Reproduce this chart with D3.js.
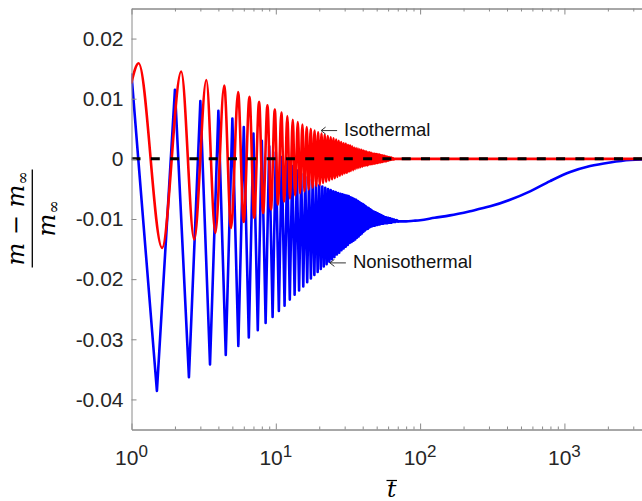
<!DOCTYPE html>
<html>
<head>
<meta charset="utf-8">
<script src="https://cdn.jsdelivr.net/npm/d3@7"></script>
<style>
  body { margin: 0; background: #fff; }
  svg { display: block; }
</style>
</head>
<body>
<svg id="chart" width="642" height="501"></svg>
<script>
// nonisothermal curve: peaks at integer t, troughs at half-integer t
var bluePeaks = [
  [1,0.0140],[2,0.0115],[3,0.0096],[4,0.0080],[5,0.0067],[6,0.0053],[7,0.0042],[8,0.0030],[9,0.0021],[10,0.0011],
  [11,0.0003],[12,-0.0004],[13,-0.0012],[14,-0.0019],[15,-0.0025],[16,-0.0030],[17,-0.0034],[18,-0.0038],[19,-0.0041],[20,-0.0044],
  [21,-0.0046],[22,-0.0048],[23,-0.0050],[24,-0.0052],[25,-0.0054],[26,-0.0055],[27,-0.0057],[28,-0.0058],[29,-0.0059],[30,-0.0060],
  [31,-0.0061],[32,-0.0062],[33,-0.0064],[34,-0.0065],[35,-0.0067],[36,-0.0068],[37,-0.0070],[38,-0.0072],[39,-0.0074],[40,-0.0075],
  [41,-0.0077],[42,-0.0079],[43,-0.0081],[44,-0.0082],[45,-0.0084],[46,-0.0085],[47,-0.0087],[48,-0.0088],[49,-0.0089],[50,-0.0090],
  [51,-0.0091],[52,-0.0092],[53,-0.0093],[54,-0.0094],[55,-0.0095],[56,-0.0096],[57,-0.0097],[58,-0.0097],[59,-0.0098],[60,-0.0098],
  [61,-0.0099],[62,-0.0099],[63,-0.0100],[64,-0.0100],[65,-0.0101],[66,-0.0101],[67,-0.0102],[68,-0.0102],[69,-0.0102],[70,-0.0103]
];
var blueTroughs = [
  [1.5,-0.0386],[2.5,-0.0363],[3.5,-0.0342],[4.5,-0.0326],[5.5,-0.0311],[6.5,-0.0297],[7.5,-0.0285],[8.5,-0.0273],[9.5,-0.0263],[10.5,-0.0253],
  [11.5,-0.0244],[12.5,-0.0234],[13.5,-0.0226],[14.5,-0.0219],[15.5,-0.0212],[16.5,-0.0205],[17.5,-0.0199],[18.5,-0.0193],[19.5,-0.0188],[20.5,-0.0183],
  [21.5,-0.0179],[22.5,-0.0175],[23.5,-0.0171],[24.5,-0.0167],[25.5,-0.0163],[26.5,-0.0159],[27.5,-0.0156],[28.5,-0.0152],[29.5,-0.0149],[30.5,-0.0146],
  [31.5,-0.0143],[32.5,-0.0140],[33.5,-0.0138],[34.5,-0.0136],[35.5,-0.0134],[36.5,-0.0131],[37.5,-0.0129],[38.5,-0.0126],[39.5,-0.0124],[40.5,-0.0121],
  [41.5,-0.0119],[42.5,-0.0117],[43.5,-0.0116],[44.5,-0.0114],[45.5,-0.0113],[46.5,-0.0112],[47.5,-0.0111],[48.5,-0.0111],[49.5,-0.0110],[50.5,-0.0110],
  [51.5,-0.0109],[52.5,-0.0109],[53.5,-0.0108],[54.5,-0.0108],[55.5,-0.0108],[56.5,-0.0107],[57.5,-0.0107],[58.5,-0.0107],[59.5,-0.0107],[60.5,-0.0106],
  [61.5,-0.0106],[62.5,-0.0106],[63.5,-0.0106],[64.5,-0.0105],[65.5,-0.0105],[66.5,-0.0105],[67.5,-0.0105],[68.5,-0.0104],[69.5,-0.0104],[70.5,-0.0104]
];
var blueTail = [
  [70.5,-0.0104],[75,-0.0104],[80,-0.0104],[90,-0.0103],[100,-0.0102],[126,-0.0098],[161,-0.0094],[222,-0.0087],[306,-0.0079],
  [420,-0.0068],[578,-0.0054],[796,-0.0037],[1096,-0.0022],[1507,-0.0012],[2075,-0.0006],[2856,-0.0002],[3600,-0.0001]
];

// isothermal curve: period about 1.09
var redStart = [[1,0.0127]];
var redPeaks = [
  [1.12,0.0159],[2.21,0.0145],[3.30,0.0131],[4.39,0.0122],[5.48,0.0111],[6.57,0.0103],[7.66,0.0095],[8.75,0.0089],[9.84,0.0082],[10.93,0.0077],
  [12.02,0.0071],[13.11,0.0065],[14.20,0.0061],[15.29,0.0057],[16.38,0.0053],[17.47,0.0050],[18.56,0.0047],[19.65,0.0044],[20.74,0.0042],[21.83,0.0040],
  [22.92,0.0038],[24.01,0.0036],[25.10,0.0034],[26.19,0.0032],[27.28,0.0030],[28.37,0.0028],[29.46,0.0026],[30.55,0.0025],[31.64,0.0023],[32.73,0.0022],
  [33.82,0.0021],[34.91,0.0019],[36.00,0.0018],[37.09,0.0017],[38.18,0.0016],[39.27,0.0015],[40.36,0.0014],[41.45,0.0013],[42.54,0.0012],[43.63,0.0011],
  [44.72,0.0011],[45.81,0.0010],[46.90,0.0009],[47.99,0.0009],[49.08,0.0008],[50.17,0.0008],[51.26,0.0007],[52.35,0.0007],[53.44,0.0006],[54.53,0.0006],
  [55.62,0.0005],[56.71,0.0005],[57.80,0.0004],[58.89,0.0004],[59.98,0.0003],[61.07,0.0003],[62.16,0.0002],[63.25,0.0002],[64.34,0.0001],[65.43,0.0001]
];
var redTroughs = [
  [1.63,-0.0148],[2.72,-0.0134],[3.81,-0.0123],[4.90,-0.0115],[5.99,-0.0105],[7.08,-0.0098],[8.17,-0.0090],[9.26,-0.0084],[10.35,-0.0076],[11.44,-0.0071],
  [12.53,-0.0066],[13.62,-0.0061],[14.71,-0.0057],[15.80,-0.0054],[16.89,-0.0051],[17.98,-0.0048],[19.07,-0.0045],[20.16,-0.0043],[21.25,-0.0040],[22.34,-0.0038],
  [23.43,-0.0036],[24.52,-0.0034],[25.61,-0.0032],[26.70,-0.0030],[27.79,-0.0028],[28.88,-0.0026],[29.97,-0.0024],[31.06,-0.0023],[32.15,-0.0021],[33.24,-0.0020],
  [34.33,-0.0019],[35.42,-0.0017],[36.51,-0.0016],[37.60,-0.0015],[38.69,-0.0014],[39.78,-0.0013],[40.87,-0.0012],[41.96,-0.0011],[43.05,-0.0011],[44.14,-0.0010],
  [45.23,-0.0009],[46.32,-0.0009],[47.41,-0.0008],[48.50,-0.0008],[49.59,-0.0007],[50.68,-0.0007],[51.77,-0.0006],[52.86,-0.0006],[53.95,-0.0005],[55.04,-0.0005],
  [56.13,-0.0004],[57.22,-0.0004],[58.31,-0.0004],[59.40,-0.0003],[60.49,-0.0003],[61.58,-0.0002],[62.67,-0.0002],[63.76,-0.0001],[64.85,-0.0001],[65.94,-0.0001]
];
var redTail = [[67,0],[3600,0]];

var yTicks = [-0.04, -0.03, -0.02, -0.01, 0, 0.01, 0.02];
var xMajor = [1, 10, 100, 1000];
var annotations = [
  {label: "Isothermal", t: 20.6, v: 0.0047},
  {label: "Nonisothermal", t: 23.7, v: -0.0173}
];

var svg = d3.select("#chart");
var axisColor = "#8a8a8a", textColor = "#262626";
var sans = "'Liberation Sans', Arial, Helvetica, sans-serif";
var serif = "'DejaVu Serif', 'Liberation Serif', serif";

var x = d3.scaleLog().domain([1, 3600]).range([131.5, 644.7]);
var y = d3.scaleLinear().domain([-0.045, 0.025]).range([429.5, 8.5]);

svg.append("clipPath").attr("id", "plot")
  .append("rect")
  .attr("x", x.range()[0]).attr("y", y.range()[1])
  .attr("width", x.range()[1] - x.range()[0])
  .attr("height", y.range()[0] - y.range()[1]);

var byT = (a, b) => a[0] - b[0];
var blueOsc = bluePeaks.concat(blueTroughs).sort(byT);
var redData = redStart.concat(redPeaks, redTroughs).sort(byT).concat(redTail);

var lineLinear = d3.line().x(d => x(d[0])).y(d => y(d[1]));
var lineSmooth = d3.line().x(d => x(d[0])).y(d => y(d[1])).curve(d3.curveMonotoneX);

var plot = svg.append("g").attr("clip-path", "url(#plot)");

function drawCurve(data, gen, color){
  plot.append("path")
    .datum(data)
    .attr("d", gen)
    .style("fill", "none")
    .style("stroke", color)
    .style("stroke-width", 2.6)
    .style("stroke-linejoin", "round")
    .style("stroke-linecap", "round");
}

drawCurve(blueOsc, lineLinear, "#0000ff");
drawCurve(blueTail, lineSmooth, "#0000ff");
drawCurve(redData, lineSmooth, "#ff0000");

// steady state reference
plot.append("path")
  .datum(x.domain().map(t => [t, 0]))
  .attr("d", lineLinear)
  .style("fill", "none")
  .style("stroke", "#000")
  .style("stroke-width", 3)
  .style("stroke-dasharray", "9,10.3");

// axes
var xMinor = x.ticks().filter(d => xMajor.indexOf(d) < 0);

function styleAxis(g){
  g.selectAll("path.domain").style("stroke", axisColor).style("stroke-width", 1);
  g.selectAll(".tick line").style("stroke", axisColor).style("stroke-width", 1);
  g.selectAll("text").style("font-family", sans).style("font-size", "21px").style("fill", textColor);
}

svg.append("g")
  .attr("transform", "translate(0,429.5)")
  .call(d3.axisBottom(x).tickValues(xMajor).tickSizeInner(-6).tickSizeOuter(0).tickFormat(""))
  .call(styleAxis);
svg.append("g")
  .attr("transform", "translate(0,429.5)")
  .call(d3.axisBottom(x).tickValues(xMinor).tickSizeInner(-3).tickSizeOuter(0).tickFormat(""))
  .call(styleAxis);
svg.append("g")
  .attr("transform", "translate(0,8.5)")
  .call(d3.axisTop(x).tickValues(xMajor).tickSizeInner(-6).tickSizeOuter(0).tickFormat(""))
  .call(styleAxis);
svg.append("g")
  .attr("transform", "translate(0,8.5)")
  .call(d3.axisTop(x).tickValues(xMinor).tickSizeInner(-3).tickSizeOuter(0).tickFormat(""))
  .call(styleAxis);
svg.append("g")
  .attr("transform", "translate(131.5,0)")
  .call(d3.axisLeft(y).tickValues(yTicks).tickSizeInner(-5).tickSizeOuter(0).tickPadding(8)
    .tickFormat(d => d === 0 ? "0" : d.toFixed(2)))
  .call(styleAxis);

// power-of-ten labels
var xl = svg.append("g").selectAll("text.xlabel")
  .data(xMajor)
  .enter()
  .append("text")
  .attr("class", "xlabel")
  .attr("x", d => x(d))
  .attr("y", 465)
  .attr("text-anchor", "middle")
  .style("font-family", sans)
  .style("font-size", "21px")
  .style("fill", textColor);
xl.append("tspan").text("10");
xl.append("tspan")
  .attr("dy", -8.5)
  .style("font-size", "17px")
  .text(d => Math.round(Math.log10(d)));

// y label: (m - m_inf) / m_inf
var yl = svg.append("g").attr("transform", "translate(32.3,218.5) rotate(-90)");
yl.append("line")
  .attr("x1", -49).attr("x2", 49).attr("y1", 0).attr("y2", 0)
  .style("stroke", "#000").style("stroke-width", 1.3);
var num = yl.append("text")
  .attr("x", 0).attr("y", -8.5)
  .attr("text-anchor", "middle")
  .style("font-family", serif).style("font-size", "24px").style("fill", "#000");
num.append("tspan").style("font-style", "italic").text("m");
num.append("tspan").text(" \u2212 ");
num.append("tspan").style("font-style", "italic").text("m");
num.append("tspan").attr("dy", 4).style("font-size", "16px").text("\u221e");
var den = yl.append("text")
  .attr("x", 0).attr("y", 22.5)
  .attr("text-anchor", "middle")
  .style("font-family", serif).style("font-size", "24px").style("fill", "#000");
den.append("tspan").style("font-style", "italic").text("m");
den.append("tspan").attr("dy", 4).style("font-size", "16px").text("\u221e");

// x label: t bar
svg.append("text")
  .attr("x", 391.5).attr("y", 497)
  .attr("text-anchor", "middle")
  .style("font-family", serif).style("font-style", "italic").style("font-size", "23px").style("fill", "#000")
  .text("t");
svg.append("line")
  .attr("x1", 386.5).attr("x2", 397).attr("y1", 480.5).attr("y2", 480.5)
  .style("stroke", "#000").style("stroke-width", 1.2);

// annotations
var ann = svg.append("g").selectAll("g.ann")
  .data(annotations)
  .enter()
  .append("g")
  .attr("class", "ann")
  .attr("transform", d => "translate(" + x(d.t) + "," + y(d.v) + ")");
ann.append("path")
  .attr("d", "M16,0 L0,0 M4.5,-3.5 L0,0 L4.5,3.5")
  .style("fill", "none")
  .style("stroke", "#333")
  .style("stroke-width", 1);
ann.append("text")
  .attr("x", 23)
  .attr("y", 5.5)
  .style("font-family", sans)
  .style("font-size", "18.5px")
  .style("fill", "#111")
  .text(d => d.label);
</script>
</body>
</html>
